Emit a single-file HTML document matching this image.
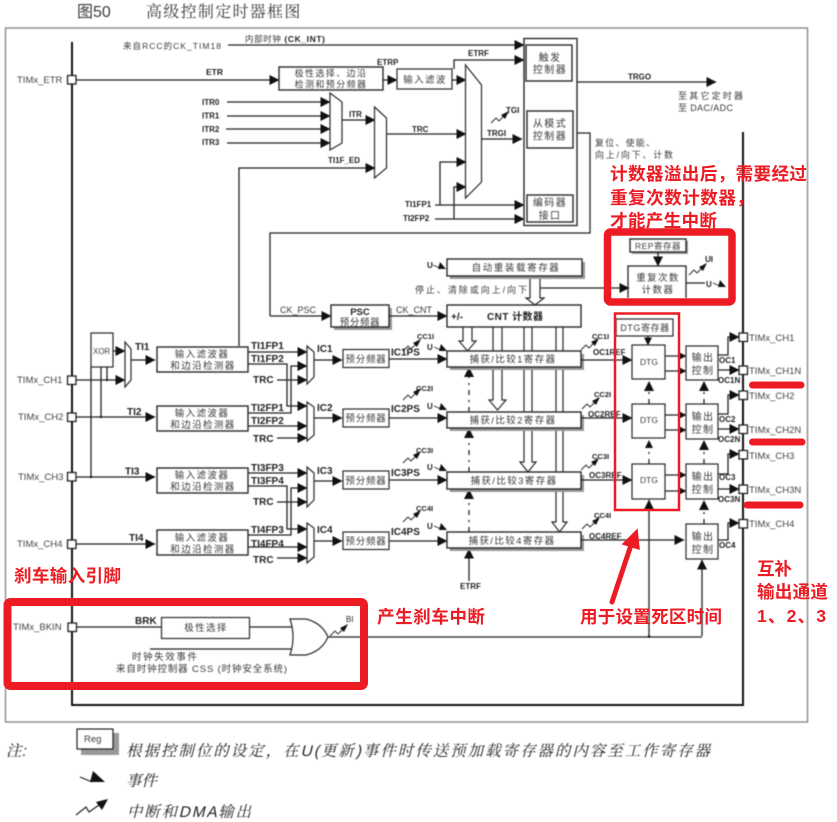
<!DOCTYPE html>
<html lang="zh">
<head>
<meta charset="utf-8">
<style>
html,body{margin:0;padding:0;background:#fff;width:837px;height:822px;overflow:hidden}
svg{display:block}
text{font-family:"Liberation Sans","Noto Sans CJK SC",sans-serif;font-size:9px;fill:#3a3a3a}
.b{font-weight:bold;fill:#222}
.l{font-weight:bold;font-size:10px;fill:#222}
.s{font-size:8px;font-weight:bold;fill:#222}
.c{text-anchor:middle;font-size:10px;letter-spacing:1.4px}
.p{font-size:9.5px;fill:#444}
.w{fill:#fff;stroke:#2a2a2a;stroke-width:1.4}
.t{fill:#fff;stroke:#2a2a2a;stroke-width:1.2}
.sh{fill:#999}
.ln{fill:none;stroke:#222;stroke-width:1.3}
.hb{fill:none;stroke:#111;stroke-width:2}
.a{marker-end:url(#ah)}
.sa{marker-end:url(#sh)}
.d{stroke-dasharray:5 5 2 5}
.r{font-family:"Liberation Sans","Noto Sans CJK SC",sans-serif;font-weight:bold;fill:#ed1c24;font-size:17.6px}
.i{font-family:"Liberation Sans","Noto Serif CJK SC",serif;font-size:15.5px;fill:#222}
#m{filter:blur(.45px)}
</style>
</head>
<body>
<svg width="837" height="822" viewBox="0 0 837 822" xmlns="http://www.w3.org/2000/svg">
<defs>
<marker id="ah" markerUnits="userSpaceOnUse" markerWidth="10" markerHeight="10" refX="9.5" refY="5" orient="auto"><path d="M0 0L10 5L0 10Z" fill="#111"/></marker>
<marker id="sh" markerUnits="userSpaceOnUse" markerWidth="8" markerHeight="8" refX="7.5" refY="4" orient="auto"><path d="M0 0L8 4L0 8Z" fill="#111"/></marker>
<g id="zz"><path d="M0 9L5 4L8 7L13 2" fill="none" stroke="#222" stroke-width=".9"/><path d="M10 1L18 -3L14 5Z" fill="#111"/></g>
<g id="ev"><path d="M0 0L7 3" fill="none" stroke="#222" stroke-width=".9"/><path d="M7 -3L13 4H5Z" fill="#111"/></g>
</defs>

<g id="m">
<text x="77" y="17" style="font-size:16px" fill="#333">图50</text>
<text x="146" y="17" style="font-size:16px;letter-spacing:1.3px;font-family:'Liberation Serif','Noto Serif CJK SC',serif">高级控制定时器框图</text>

<rect x="5.5" y="28" width="802" height="694" fill="#fff" stroke="#888" stroke-width="1.4"/>

<!-- buses -->
<path class="hb" d="M72 42V705H743V132"/>

<!-- top inputs -->
<text x="123" y="49" style="font-size:8.5px" textLength="98" lengthAdjust="spacing">来自RCC的CK_TIM18</text>
<text x="245" y="42" style="font-size:8.5px" textLength="80" lengthAdjust="spacing">内部时钟 <tspan class="b">(CK_INT)</tspan></text>
<path class="ln a" d="M228 45H524"/>
<text x="17" y="83" class="p">TIMx_ETR</text>
<path class="ln a" d="M76 80H279"/>
<text x="206" y="75" class="s" style="font-size:8.5px">ETR</text>
<rect x="279" y="67" width="104" height="23" class="w"/>
<text x="331" y="76.5" class="c" style="font-size:9px">极性选择、边沿</text>
<text x="331" y="87.5" class="c" style="font-size:9px">检测和预分频器</text>
<path class="ln a" d="M383 80H397"/>
<text x="377" y="65" class="s">ETRP</text>
<rect x="397" y="69" width="55" height="20" class="t"/>
<text x="425" y="83" class="c" style="font-size:9.5px">输入滤波</text>
<path class="ln a" d="M452 80H466"/>
<path class="ln a" d="M454 69V60H524"/>
<text x="468" y="56" class="s">ETRF</text>

<!-- ITR -->
<text x="202" y="105" class="s">ITR0</text><text x="202" y="118.500" class="s">ITR1</text><text x="202" y="132" class="s">ITR2</text><text x="202" y="145" class="s">ITR3</text>
<path class="ln a" d="M227 102H330"/><path class="ln a" d="M227 116H330"/><path class="ln a" d="M226 129H330"/><path class="ln a" d="M227 143H330"/>
<polygon class="t" points="330,93 342,102 342,143 330,150"/>
<path class="ln a" d="M342 120H375"/>
<text x="349" y="117" class="s">ITR</text>
<polygon class="t" points="374.500,107 386.500,118 386.500,168 374.500,178"/>
<path class="ln a" d="M239 346V168H375"/>
<text x="328" y="163" class="s">TI1F_ED</text>
<path class="ln a" d="M387 134H466"/>
<text x="412" y="132" class="s">TRC</text>
<polygon class="t" points="465.500,65 481.500,85 481.500,182 465.500,198"/>
<path class="ln a" d="M481 139H522"/>
<text x="487" y="136" class="s">TRGI</text>
<use href="#zz" x="491" y="114"/>
<text x="506" y="113" class="s">TGI</text>

<text x="405" y="207" class="s">TI1FP1</text><text x="403" y="221" class="s">TI2FP2</text>
<path class="ln a" d="M435 205H524"/><path class="ln a" d="M435 219H524"/>
<path class="ln a" d="M440 205V162H466"/><path class="ln a" d="M454 219V187H466"/>

<!-- control block -->
<rect x="524" y="38.500" width="53" height="187" class="w"/>
<rect x="526" y="45" width="46" height="36" class="w"/>
<text x="550" y="61" class="c" style="font-size:10px">触发</text><text x="550" y="73" class="c" style="font-size:10px">控制器</text>
<rect x="527" y="111" width="46" height="37" class="w"/>
<text x="550" y="127" class="c" style="font-size:10px">从模式</text><text x="550" y="139.500" class="c" style="font-size:10px">控制器</text>
<rect x="527" y="195" width="46" height="27" class="w"/>
<text x="550" y="206" class="c" style="font-size:10px">编码器</text><text x="550" y="219" class="c" style="font-size:10px">接口</text>
<path class="ln a" d="M577 82H716"/>
<text x="628" y="79.500" class="s">TRGO</text>
<text x="678" y="99" textLength="65" lengthAdjust="spacing">至其它定时器</text>
<text x="678" y="111" textLength="55" lengthAdjust="spacing">至 DAC/ADC</text>
<text x="595" y="146" textLength="60" lengthAdjust="spacing">复位、使能、</text>
<text x="595" y="158" textLength="78" lengthAdjust="spacing">向上/向下、计数</text>
<path class="ln" d="M577 133H590V233H270V316"/>

<!-- CK_PSC / CNT -->
<path class="ln a" d="M270 316H331"/>
<text x="280" y="313" style="font-size:9px">CK_PSC</text>
<rect x="334" y="308" width="58" height="22" class="sh"/>
<rect x="331" y="305" width="58" height="22" class="w"/>
<text x="360" y="315" class="s" style="text-anchor:middle;font-size:9.5px">PSC</text>
<text x="360" y="325.500" class="c" style="font-size:9.500px;letter-spacing:.6px">预分频器</text>
<path class="ln a" d="M389 316H447"/>
<text x="396" y="313" style="font-size:9px">CK_CNT</text>

<!-- hollow arrows -->
<path class="t" d="M463 327V341H459L467.500 351L476 341H472V327"/>
<path class="t" d="M493 327V400H489L497.500 410L506 400H502V327"/>
<path class="t" d="M524 327V462H520L528 472L536 462H532V327"/>
<path class="t" d="M556 327V522H552L559.500 532L567 522H563V327"/>
<path class="t" d="M530 276V298H526L535 305L544 298H540V276"/>

<!-- auto reload -->
<rect x="450" y="262" width="135" height="17" class="sh"/>
<rect x="447" y="259" width="135" height="17" class="w"/>
<text x="516" y="271" class="c" style="font-size:9.500px;letter-spacing:1.6px">自动重装载寄存器</text>
<text x="427" y="268" class="s">U</text><use href="#ev" x="433" y="265"/>
<text x="415" y="293" textLength="112" lengthAdjust="spacing">停止、清除或向上/向下</text>
<path class="ln a" d="M540 288H629"/>
<rect x="447" y="305" width="134" height="22" class="w"/>
<text x="451" y="320" class="l">+/-</text>
<text x="487" y="320" class="l" textLength="56" lengthAdjust="spacing">CNT 计数器</text>

<!-- REP -->
<rect x="632" y="241" width="56" height="13" class="sh"/>
<rect x="630" y="239" width="56" height="13" class="w"/>
<text x="658" y="249" class="c" style="font-size:8.500px;letter-spacing:.5px">REP寄存器</text>
<path class="ln a" d="M658 252V266"/>
<path class="ln" d="M628 298V266H686V298"/>
<text x="658" y="281" class="c" style="font-size:9.500px">重复次数</text>
<text x="658" y="293" class="c" style="font-size:9.500px">计数器</text>
<use href="#zz" x="689" y="266"/>
<text x="705" y="262" class="s">UI</text>
<path class="ln" d="M686 283H705"/>
<text x="706" y="287" class="s">U</text><use href="#ev" x="713" y="283"/>

<!-- pins left -->
<text x="17" y="383" class="p">TIMx_CH1</text>
<text x="18" y="420" class="p">TIMx_CH2</text>
<text x="18" y="480" class="p">TIMx_CH3</text>
<text x="17" y="547" class="p">TIMx_CH4</text>
<text x="13" y="630" class="p">TIMx_BKIN</text>

<!-- XOR -->
<rect x="91" y="333" width="22" height="34" class="t"/>
<text x="93" y="354" style="font-size:8px">XOR</text>
<path class="ln" d="M107 367V380M101 367V417M91 367V477"/>
<circle cx="107" cy="380" r="1.200" fill="#111"/><circle cx="101" cy="417" r="1.200" fill="#111"/><circle cx="91" cy="477" r="1.200" fill="#111"/>
<path class="ln a" d="M113 351H125"/>
<path class="ln a" d="M76 380H125"/>
<polygon class="t" points="125,342 131,349 131,380 125,387"/>
<path class="ln a" d="M131 360H155"/>
<text x="135" y="350" class="l">TI1</text>
<path class="ln a" d="M76 417H155"/><text x="127" y="415" class="l">TI2</text>
<path class="ln a" d="M76 477H155"/><text x="125" y="474.500" class="l">TI3</text>
<path class="ln a" d="M76 544H155"/><text x="129" y="541" class="l">TI4</text>

<!-- filter boxes -->
<rect x="157" y="347" width="91" height="25" class="w"/>
<text x="202" y="357.500" class="c" style="font-size:9.500px">输入滤波器</text><text x="203" y="369" class="c" style="font-size:9.500px">和边沿检测器</text>
<rect x="157" y="406" width="91" height="25" class="w"/>
<text x="202" y="416.500" class="c" style="font-size:9.500px">输入滤波器</text><text x="203" y="428" class="c" style="font-size:9.500px">和边沿检测器</text>
<rect x="157" y="468" width="91" height="25" class="w"/>
<text x="202" y="478.500" class="c" style="font-size:9.500px">输入滤波器</text><text x="203" y="490" class="c" style="font-size:9.500px">和边沿检测器</text>
<rect x="157" y="530" width="91" height="25" class="w"/>
<text x="202" y="541" class="c" style="font-size:9.500px">输入滤波器</text><text x="203" y="552.500" class="c" style="font-size:9.500px">和边沿检测器</text>

<!-- channel 1/2 -->
<path class="ln a" d="M248 352H307"/>
<path class="ln a" d="M248 364H287V406H307"/>
<path class="ln a" d="M248 413H291V366H307"/>
<path class="ln a" d="M248 426H307"/>
<path class="ln a" d="M277 380H307"/>
<path class="ln a" d="M277 438H307"/>
<text x="251" y="349" class="l">TI1FP1</text><text x="251" y="362" class="l">TI1FP2</text><text x="253" y="383" class="l">TRC</text>
<text x="251" y="411" class="l">TI2FP1</text><text x="251" y="424" class="l">TI2FP2</text><text x="253" y="442" class="l">TRC</text>
<polygon class="t" points="307,346 314,352 314,377 307,384"/>
<polygon class="t" points="307,402 314,407 314,435 307,441"/>
<path class="ln a" d="M314 360H342"/><path class="ln a" d="M314 418H342"/>
<text x="317" y="352" class="l">IC1</text><text x="317" y="411" class="l">IC2</text>
<!-- channel 3/4 -->
<path class="ln a" d="M248 473H307"/>
<path class="ln a" d="M248 486H287V529H307"/>
<path class="ln a" d="M248 535H291V488H307"/>
<path class="ln a" d="M248 547H307"/>
<path class="ln a" d="M277 502H307"/>
<path class="ln a" d="M277 558H307"/>
<text x="251" y="471" class="l">TI3FP3</text><text x="251" y="484" class="l">TI3FP4</text><text x="253" y="505" class="l">TRC</text>
<text x="251" y="533" class="l">TI4FP3</text><text x="251" y="547" class="l">TI4FP4</text><text x="253" y="563" class="l">TRC</text>
<polygon class="t" points="307,467 314,473 314,500 307,507"/>
<polygon class="t" points="307,523 314,528 314,557 307,563"/>
<path class="ln a" d="M314 481H342"/><path class="ln a" d="M314 541H342"/>
<text x="317" y="474" class="l">IC3</text><text x="317" y="533" class="l">IC4</text>

<!-- prescalers -->
<rect x="343" y="349.500" width="46" height="18" class="t"/><text x="366" y="362.500" class="c" style="font-size:9.500px;letter-spacing:.8px">预分频器</text>
<rect x="343" y="409" width="46" height="18" class="t"/><text x="366" y="421.500" class="c" style="font-size:9.500px;letter-spacing:.8px">预分频器</text>
<rect x="343" y="471" width="46" height="18" class="t"/><text x="366" y="484" class="c" style="font-size:9.500px;letter-spacing:.8px">预分频器</text>
<rect x="343" y="532" width="46" height="17.500" class="t"/><text x="366" y="544.500" class="c" style="font-size:9.500px;letter-spacing:.8px">预分频器</text>
<path class="ln a" d="M389 359H447"/><path class="ln a" d="M389 418H447"/><path class="ln a" d="M389 480H447"/><path class="ln a" d="M389 541H447"/>
<text x="391" y="355.500" class="l">IC1PS</text><text x="391" y="412" class="l">IC2PS</text><text x="391" y="476" class="l">IC3PS</text><text x="391" y="535" class="l">IC4PS</text>

<!-- left CC / U -->
<text x="417" y="339" class="s" style="font-size:7.500px">CC1I</text><use href="#zz" x="403" y="342"/>
<text x="416" y="391" class="s" style="font-size:7.500px">CC2I</text><use href="#zz" x="403" y="391"/>
<text x="416" y="453" class="s" style="font-size:7.500px">CC3I</text><use href="#zz" x="403" y="454"/>
<text x="416" y="511" class="s" style="font-size:7.500px">CC4I</text><use href="#zz" x="403" y="513"/>
<text x="427" y="350" class="s">U</text><use href="#ev" x="434" y="347"/>
<text x="427" y="409" class="s">U</text><use href="#ev" x="434" y="406"/>
<text x="427" y="470" class="s">U</text><use href="#ev" x="434" y="467"/>
<text x="427" y="529" class="s">U</text><use href="#ev" x="434" y="526"/>

<!-- dashed up -->
<path class="ln d" d="M469 412V376"/><path d="M464 377L469 367L474 377Z" fill="#111"/>
<path class="ln d" d="M469 472V437"/><path d="M464 438L469 428L474 438Z" fill="#111"/>
<path class="ln d" d="M469 532V498"/><path d="M464 499L469 489L474 499Z" fill="#111"/>
<path class="ln a" d="M469 581V549"/>
<text x="460" y="589" class="s">ETRF</text>

<!-- capture regs -->
<rect x="450" y="354" width="134" height="16" class="sh"/><rect x="447" y="351" width="134" height="16" class="w"/>
<text x="513" y="362.500" class="c" style="font-size:9.500px">捕获/比较1寄存器</text>
<rect x="450" y="415" width="134" height="16" class="sh"/><rect x="447" y="412" width="134" height="16" class="w"/>
<text x="513" y="423.500" class="c" style="font-size:9.500px">捕获/比较2寄存器</text>
<rect x="450" y="475" width="134" height="17" class="sh"/><rect x="447" y="472" width="134" height="17" class="w"/>
<text x="514" y="484" class="c" style="font-size:9.500px">捕获/比较3寄存器</text>
<rect x="450" y="535" width="134" height="16" class="sh"/><rect x="447" y="532" width="134" height="16" class="w"/>
<text x="512" y="544" class="c" style="font-size:9.500px">捕获/比较4寄存器</text>

<!-- right CC -->
<use href="#zz" x="581" y="341"/><text x="592" y="339" class="s" style="font-size:7.500px">CC1I</text>
<use href="#zz" x="582" y="400"/><text x="594" y="397" class="s" style="font-size:7.500px">CC2I</text>
<use href="#zz" x="581" y="461"/><text x="592" y="459" class="s" style="font-size:7.500px">CC3I</text>
<use href="#zz" x="582" y="520"/><text x="594" y="518" class="s" style="font-size:7.500px">CC4I</text>
<path class="ln a" d="M581 360H632"/><text x="593" y="355" class="s">OC1REF</text>
<path class="ln a" d="M581 418H632"/><text x="588" y="417" class="s">OC2REF</text>
<path class="ln a" d="M581 480H632"/><text x="589" y="478" class="s">OC3REF</text>
<path class="ln a" d="M581 540H684"/><text x="589" y="539" class="s">OC4REF</text>

<!-- DTG -->
<rect x="616" y="319" width="57" height="17" class="t"/>
<text x="645" y="331" class="c" style="font-size:9px;letter-spacing:.6px">DTG寄存器</text>
<path class="ln sa" d="M648 336V345"/>
<rect x="632" y="345" width="33" height="34" class="t"/><text x="649" y="365" class="c" style="font-size:8.500px;letter-spacing:0">DTG</text>
<rect x="632" y="404" width="33" height="34" class="t"/><text x="649" y="423" class="c" style="font-size:8.500px;letter-spacing:0">DTG</text>
<rect x="632" y="464" width="33" height="35" class="t"/><text x="649" y="483" class="c" style="font-size:8.500px;letter-spacing:0">DTG</text>
<path class="ln d" d="M649 404V388"/><path d="M644 391L649 381L654 391Z" fill="#111"/>
<path class="ln d" d="M649 464V448"/><path d="M645 448L649 440L653 448Z" fill="#111"/>
<path class="ln a" d="M649 636V500"/>
<path class="ln sa" d="M665 356H686"/><path class="ln sa" d="M665 371H686"/>
<path class="ln sa" d="M665 415H686"/><path class="ln sa" d="M665 430H686"/>
<path class="ln sa" d="M665 475H686"/><path class="ln sa" d="M665 491H686"/>

<!-- output control -->
<rect x="686" y="346" width="32" height="34" class="t"/><text x="703" y="361" class="c" style="font-size:10px">输出</text><text x="703" y="374" class="c" style="font-size:10px">控制</text>
<rect x="686" y="404" width="32" height="35" class="t"/><text x="703" y="420" class="c" style="font-size:10px">输出</text><text x="703" y="433" class="c" style="font-size:10px">控制</text>
<rect x="686" y="464" width="32" height="35" class="t"/><text x="703" y="480" class="c" style="font-size:10px">输出</text><text x="703" y="493" class="c" style="font-size:10px">控制</text>
<rect x="686" y="524" width="32" height="35" class="t"/><text x="703" y="540" class="c" style="font-size:10px">输出</text><text x="703" y="553" class="c" style="font-size:10px">控制</text>
<path class="ln d" d="M704 404V391"/><path d="M699 391L704 381L709 391Z" fill="#111"/>
<path class="ln d" d="M704 464V450"/><path d="M699 450L704 440L709 450Z" fill="#111"/>
<path class="ln d" d="M704 524V510"/><path d="M699 510L704 500L709 510Z" fill="#111"/>
<path class="ln a" d="M702 636V560"/>

<!-- outputs -->
<path class="ln a" d="M718 355H728V337H739"/><path class="ln a" d="M718 370H739"/>
<path class="ln a" d="M718 414H728V395H739"/><path class="ln a" d="M718 429H739"/>
<path class="ln a" d="M718 474H728V454H739"/><path class="ln a" d="M718 489H739"/>
<path class="ln a" d="M718 540H728V523H739"/>
<text x="719" y="363" class="s">OC1</text><text x="718" y="383" class="s">OC1N</text>
<text x="719" y="422" class="s">OC2</text><text x="718" y="442" class="s">OC2N</text>
<text x="719" y="480" class="s">OC3</text><text x="718" y="502" class="s">OC3N</text>
<text x="719" y="548" class="s">OC4</text>

<text x="749" y="341" class="p">TIMx_CH1</text>
<text x="749" y="374" class="p">TIMx_CH1N</text>
<text x="749" y="399" class="p">TIMx_CH2</text>
<text x="749" y="433" class="p">TIMx_CH2N</text>
<text x="749" y="459" class="p">TIMx_CH3</text>
<text x="749" y="493" class="p">TIMx_CH3N</text>
<text x="749" y="527" class="p">TIMx_CH4</text>

<!-- brake -->
<path class="ln" d="M76 627H161"/>
<text x="135" y="624" class="l">BRK</text>
<rect x="161.500" y="617.500" width="88" height="21" class="t"/>
<text x="206" y="631" class="c" style="font-size:9.500px">极性选择</text>
<path class="ln" d="M250 627H293M150 649H292"/>
<path d="M290 619Q296 637 290 655H306Q322 651 328 637Q322 623 306 619Z" class="t"/>
<path class="ln" d="M328 637H702"/>
<circle cx="649" cy="636.500" r="1.300" fill="#111"/>
<use href="#zz" x="330" y="627"/>
<text x="346" y="622" class="s" style="font-weight:normal">BI</text>
<text x="132" y="660" style="font-size:9.500px" textLength="65" lengthAdjust="spacing">时钟失效事件</text>
<text x="116" y="672" style="font-size:9.500px" textLength="171" lengthAdjust="spacing">来自时钟控制器 CSS (时钟安全系统)</text>

<!-- pin squares -->
<g fill="#fff" stroke="#222" stroke-width="1.300">
<rect x="67.500" y="75.500" width="8.500" height="8.500"/>
<rect x="67.500" y="376" width="8.500" height="8.500"/>
<rect x="67.500" y="413" width="8.500" height="8.500"/>
<rect x="67.500" y="472.500" width="8.500" height="8.500"/>
<rect x="67.500" y="540" width="8.500" height="8.500"/>
<rect x="68" y="623" width="8.500" height="8.500"/>
<rect x="739" y="333" width="8.500" height="8.500"/>
<rect x="739" y="366" width="8.500" height="8.500"/>
<rect x="739" y="391" width="8.500" height="8.500"/>
<rect x="739" y="425" width="8.500" height="8.500"/>
<rect x="739" y="450.500" width="8.500" height="8.500"/>
<rect x="739" y="485" width="8.500" height="8.500"/>
<rect x="739" y="519.500" width="8.500" height="8.500"/>
</g>

<!-- legend -->
<text transform="translate(6,756) skewX(-14)" class="i">注:</text>
<rect x="81" y="733" width="38" height="22" fill="#999"/>
<rect x="77" y="729" width="36" height="20" fill="#fff" stroke="#222" stroke-width="1.200"/>
<text x="84" y="742" style="font-size:9.500px">Reg</text>
<text transform="translate(126,756) skewX(-14)" class="i" textLength="584" lengthAdjust="spacing">根据控制位的设定，在U(更新)事件时传送预加载寄存器的内容至工作寄存器</text>
<path d="M80 777L92 782" fill="none" stroke="#222" stroke-width="1.200"/><path d="M93 771L105 782H90Z" fill="#111"/>
<text transform="translate(126,786) skewX(-14)" class="i">事件</text>
<path d="M76 815L86 807L89 812L99 805" fill="none" stroke="#222" stroke-width="1.200"/><path d="M96 802L108 799L102 810Z" fill="#111"/>
<text transform="translate(127,817) skewX(-14)" class="i" textLength="124" lengthAdjust="spacing">中断和DMA输出</text>
</g>

<!-- red annotations -->
<rect x="7.500" y="602" width="356.500" height="84" rx="3" fill="none" stroke="#ed1c24" stroke-width="8"/>
<rect x="607.500" y="232" width="124.500" height="70" rx="3" fill="none" stroke="#ed1c24" stroke-width="7.500"/>
<rect x="615" y="313.500" width="64" height="196.500" fill="none" stroke="#ed1c24" stroke-width="2.500"/>
<path d="M752.500 385H801M752.500 442H802M747 505H800" fill="none" stroke="#ed1c24" stroke-width="7" stroke-linecap="round"/>
<path d="M612 602L631 545" fill="none" stroke="#ed1c24" stroke-width="5" stroke-linecap="round"/>
<path d="M637 530L623 544L639 549Z" fill="#ed1c24" stroke="#ed1c24" stroke-width="1.500"/>
<text class="r" x="610" y="180" textLength="197" lengthAdjust="spacing">计数器溢出后，需要经过</text>
<text class="r" x="610" y="204" textLength="144" lengthAdjust="spacing">重复次数计数器，</text>
<text class="r" x="610" y="227" textLength="107" lengthAdjust="spacing">才能产生中断</text>
<text class="r" x="14" y="582" textLength="107" lengthAdjust="spacing">刹车输入引脚</text>
<text class="r" x="377" y="623" textLength="108" lengthAdjust="spacing">产生刹车中断</text>
<text class="r" x="580" y="623" textLength="142" lengthAdjust="spacing">用于设置死区时间</text>
<text class="r" x="757" y="575" textLength="35" lengthAdjust="spacing">互补</text>
<text class="r" x="757" y="598" textLength="71" lengthAdjust="spacing">输出通道</text>
<text class="r" x="757" y="622" textLength="69" lengthAdjust="spacing">1、2、3</text>
</svg>
</body>
</html>
